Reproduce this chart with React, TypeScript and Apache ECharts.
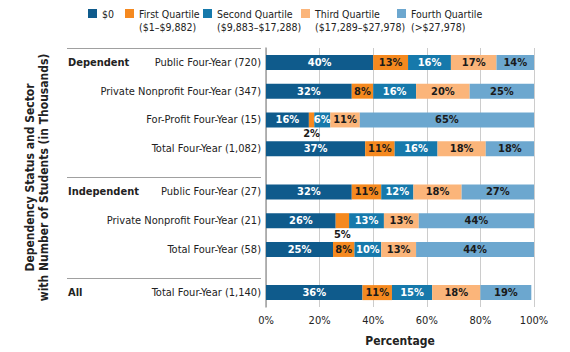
import React, { useEffect, useRef } from "react";
import * as echarts from "echarts";

const FONT = "'Liberation Sans Narrow', 'DejaVu Sans Condensed', Arial, sans-serif";

const seriesNames = ["$0", "First Quartile", "Second Quartile", "Third Quartile", "Fourth Quartile"];
const legendTexts = ["$0", "First Quartile\n($1–$9,882)", "Second Quartile\n($9,883–$17,288)", "Third Quartile\n($17,289–$27,978)", "Fourth Quartile\n(>$27,978)"];
const seriesColors = ["#0f5b8c", "#f5891f", "#1679ab", "#fbb57a", "#6ca7cf"];
const labelColors = ["#ffffff", "#1a1a1a", "#ffffff", "#1a1a1a", "#1a1a1a"];

const groups = ["Dependent", "Independent", "All"];
const groupRows = [
  ["Public Four-Year (720)", "Private Nonprofit Four-Year (347)", "For-Profit Four-Year (15)", "Total Four-Year (1,082)"],
  ["Public Four-Year (27)", "Private Nonprofit Four-Year (21)", "Total Four-Year (58)"],
  ["Total Four-Year (1,140)"],
];

const zeroAid = [40, 32, 16, 37, 32, 26, 25, 36];
const firstQ = [13, 8, 2, 11, 11, 5, 8, 11];
const secondQ = [16, 16, 6, 16, 12, 13, 10, 15];
const thirdQ = [17, 20, 11, 18, 18, 13, 13, 18];
const fourthQ = [14, 25, 65, 18, 27, 44, 44, 19];
const seriesValues = [zeroAid, firstQ, secondQ, thirdQ, fourthQ];

const xTicks = [0, 20, 40, 60, 80, 100];

type Slot = { kind: "sep" | "row" | "gap"; label: string; group: string; row: number };
const slots: Slot[] = [];
let rowCounter = 0;
groups.forEach((g, gi) => {
  slots.push({ kind: "sep", label: "", group: "", row: -1 });
  groupRows[gi].forEach((r, ri) => {
    slots.push({ kind: "row", label: r, group: ri === 0 ? g : "", row: rowCounter++ });
    slots.push({ kind: "gap", label: "", group: "", row: -1 });
  });
});
const slotKeys = slots.map((s, i) => "s" + i);

export default function App() {
  const ref = useRef<HTMLDivElement>(null);
  useEffect(() => {
    if (!ref.current) return;
    const chart = echarts.init(ref.current, null, { renderer: "svg" });
    const series = seriesNames.map((name, si) => ({
      name,
      type: "bar",
      stack: "total",
      barWidth: 15,
      yAxisIndex: 0,
      itemStyle: { color: seriesColors[si] },
      label: {
        show: true,
        position: "inside",
        formatter: "{c}%",
        color: labelColors[si],
        fontFamily: FONT,
        fontWeight: "bold",
        fontSize: 11,
      },
      data: slots.map((s) => {
        if (s.kind !== "row") return "-";
        const v = seriesValues[si][s.row];
        if (v <= 5) {
          return { value: v, label: { position: "bottom", distance: 1, color: "#1a1a1a" } };
        }
        return v;
      }),
    }));

    const legends = seriesNames.map((name, si) => ({
      data: [name],
      left: [88, 125, 203, 301, 397][si],
      top: si === 0 ? 7 : -6,
      padding: 0,
      itemWidth: 9,
      itemHeight: 9,
      icon: "rect",
      itemGap: 0,
      formatter: () => (si === 0 ? legendTexts[si] : "\n" + legendTexts[si]),
      textStyle: { fontFamily: FONT, fontSize: 10.5, color: "#222", lineHeight: 13 },
    }));

    chart.setOption({
      animation: false,
      backgroundColor: "#ffffff",
      legend: legends,
      grid: { left: 266, right: 36, top: 48, bottom: 45 },
      xAxis: {
        type: "value",
        min: xTicks[0],
        max: xTicks[xTicks.length - 1],
        interval: xTicks[1] - xTicks[0],
        axisLine: { show: false },
        axisTick: { show: false },
        splitLine: { show: true, lineStyle: { color: "#cccccc", width: 1 } },
        axisLabel: { formatter: "{value}%", color: "#222", fontFamily: FONT, fontSize: 11, margin: 8 },
        name: "Percentage",
        nameLocation: "middle",
        nameGap: 28,
        nameTextStyle: { fontFamily: FONT, fontWeight: "bold", fontSize: 12, color: "#222" },
      },
      yAxis: [
        {
          type: "category",
          inverse: true,
          boundaryGap: false,
          data: slotKeys,
          position: "left",
          axisLine: { show: true, lineStyle: { color: "#a0a0a0", width: 1.5 } },
          axisTick: { show: false },
          splitLine: { show: false },
          axisLabel: {
            interval: 0,
            margin: 5,
            formatter: (_v: string, i: number) => slots[i].label,
            color: "#222",
            fontFamily: FONT,
            fontSize: 11,
          },
          name: "Dependency Status and Sector\nwith Number of Students (in Thousands)",
          nameLocation: "middle",
          nameRotate: 90,
          nameGap: 215,
          nameTextStyle: { fontFamily: FONT, fontWeight: "bold", fontSize: 12, color: "#222", lineHeight: 14 },
        },
        {
          type: "category",
          inverse: true,
          boundaryGap: false,
          data: slotKeys,
          position: "left",
          offset: 5,
          axisLine: { show: false },
          axisTick: {
            show: true,
            length: 194,
            interval: (i: number) => slots[i] && slots[i].kind === "sep",
            lineStyle: { color: "#a0a0a0", width: 1 },
          },
          splitLine: { show: false },
          axisLabel: {
            interval: 0,
            margin: 193,
            align: "left",
            formatter: (_v: string, i: number) => slots[i].group,
            color: "#222",
            fontFamily: FONT,
            fontWeight: "bold",
            fontSize: 11,
          },
        },
      ],
      series,
    });
    return () => chart.dispose();
  }, []);
  return (
    <div
      ref={ref}
      style={{ position: "fixed", left: 0, top: 0, width: 570, height: 352, background: "#fff" }}
    />
  );
}
